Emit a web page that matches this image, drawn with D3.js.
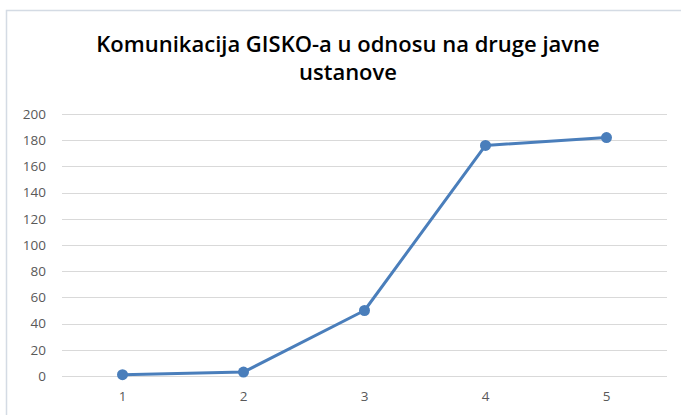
<!DOCTYPE html>
<html>
<head>
<meta charset="utf-8">
<script src="https://cdn.jsdelivr.net/npm/d3@7"></script>
<style>
  body { margin: 0; background: #fff; }
  svg { display: block; }
</style>
</head>
<body>
<svg width="681" height="415"></svg>
<script>
// chart data
const categories = ["1", "2", "3", "4", "5"];
const values = [1, 3, 50, 176, 182];
const yTicks = [0, 20, 40, 60, 80, 100, 120, 140, 160, 180, 200];
const titleLines = ["Komunikacija GISKO-a u odnosu na druge javne", "ustanove"];

const svg = d3.select("svg");
const w = 681, h = 415;
const padding = {left: 62, top: 114, right: 14, bottom: 39};

// outer frame of the chart
svg.append("rect")
  .attr("x", 6.5).attr("y", 10.5)
  .attr("width", 700).attr("height", 500)
  .attr("fill", "#fff")
  .attr("stroke", "#d4dbe4")
  .attr("stroke-width", 1.5);

const xScale = d3.scaleBand()
  .domain(categories)
  .range([padding.left, w - padding.right]);

const yScale = d3.scaleLinear()
  .domain([0, 200])
  .range([h - padding.bottom, padding.top]);

// gridlines
svg.append("g")
  .selectAll("line")
  .data(yTicks)
  .enter()
  .append("line")
  .attr("x1", padding.left)
  .attr("x2", w - padding.right)
  .attr("y1", d => Math.round(yScale(d)) + 0.5)
  .attr("y2", d => Math.round(yScale(d)) + 0.5)
  .attr("stroke", "#d9d9d9")
  .attr("stroke-width", 1);

// y axis labels
const yAxis = d3.axisLeft(yScale).tickValues(yTicks).tickSize(0).tickPadding(16);
const gy = svg.append("g")
  .attr("transform", "translate(" + padding.left + ",0)")
  .call(yAxis);
gy.select(".domain").remove();
gy.selectAll("text")
  .attr("fill", "#595959")
  .style("font-family", "'Open Sans', sans-serif")
  .style("font-size", "13.5px");

// x axis labels
const xAxis = d3.axisBottom(xScale).tickSize(0).tickPadding(15);
const gx = svg.append("g")
  .attr("transform", "translate(0," + (h - padding.bottom) + ")")
  .call(xAxis);
gx.select(".domain").remove();
gx.selectAll("text")
  .attr("fill", "#595959")
  .style("font-family", "'Open Sans', sans-serif")
  .style("font-size", "13.5px");

// line
const line = d3.line()
  .x((d, i) => xScale(categories[i]) + xScale.bandwidth() / 2)
  .y(d => yScale(d));

svg.append("path")
  .datum(values)
  .attr("d", line)
  .attr("fill", "none")
  .attr("stroke", "#4a7ebb")
  .attr("stroke-width", 3)
  .attr("stroke-linejoin", "round");

svg.append("g")
  .selectAll("circle")
  .data(values)
  .enter()
  .append("circle")
  .attr("cx", (d, i) => xScale(categories[i]) + xScale.bandwidth() / 2)
  .attr("cy", d => yScale(d))
  .attr("r", 5.5)
  .attr("fill", "#4a7ebb");

// title
svg.append("g")
  .selectAll("text")
  .data(titleLines)
  .enter()
  .append("text")
  .attr("x", 348)
  .attr("y", (d, i) => 52 + i * 28)
  .attr("text-anchor", "middle")
  .attr("fill", "#000")
  .style("font-family", "'Open Sans', sans-serif")
  .style("font-weight", "600")
  .style("font-size", "22px")
  .text(d => d);
</script>
</body>
</html>
